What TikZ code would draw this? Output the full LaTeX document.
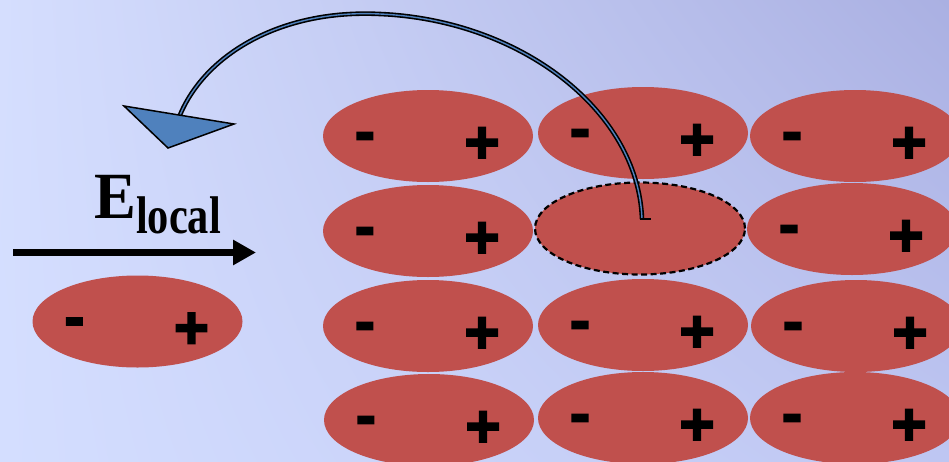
\documentclass[tikz,border=0pt]{standalone}
\usepackage{fontspec}
\usepackage{graphicx}
\usetikzlibrary{shapes.geometric,arrows.meta,shadings}
\newfontfamily\signfont[FakeBold=3]{Liberation Sans Bold}
\newfontfamily\labelfont{Liberation Serif Bold}

\definecolor{dipred}{RGB}{192,80,77}
\definecolor{arrowblue}{RGB}{79,129,189}
\definecolor{bgUL}{RGB}{213,222,254}
\definecolor{bgUR}{RGB}{170,176,226}
\definecolor{bgLL}{RGB}{212,222,255}
\definecolor{bgLR}{RGB}{190,198,242}

\tikzset{
  dip/.style={ellipse, fill=dipred, minimum width=210pt, minimum height=92pt, inner sep=0pt},
  probe/.style={dip, draw=black, dash pattern=on 6pt off 3.5pt, line width=2.2pt},
  sgn/.style={inner sep=0pt, outer sep=0pt, font=\signfont\fontsize{60}{60}\selectfont},
  shaft/.style={double=arrowblue, double distance=1.4pt, line width=1.6pt, line cap=butt},
  tiphead/.style={fill=arrowblue, draw=black, line width=1.5pt, line join=miter},
  fieldarrow/.style={line width=7pt, -{Triangle[length=23pt, width=24pt]}},
}

% an elongated dipole: red ellipse with its - and + charges
\newcommand\dipole[4][dip]{%
  \node[#1] (#2) at (#3,#4) {};
  \node[sgn] (#2m) at ([shift={(-63,6)}]#2.center) {-};
  \node[sgn] (#2p) at ([shift={(54,9)}]#2.center) {+};
}

\begin{document}
\begin{tikzpicture}[x=1pt, y=-1pt]
  \useasboundingbox (0,0) rectangle (949,461);
  \shade[upper left=bgUL, upper right=bgUR, lower left=bgLL, lower right=bgLR]
    (0,0) rectangle (949,461);

  % isolated dipole in the local field
  \dipole{free}{137.5}{321.5}

  % field arrow and its label
  \coordinate (fstart) at (13,252.5);
  \coordinate (fend) at (256,252.5);
  \draw[fieldarrow] (fstart) -- (fend);
  \node[anchor=base west, inner sep=0pt] (elabel) at (94,218)
    {\labelfont\fontsize{66}{66}\selectfont\scalebox{0.95}[1]{E}%
     \raisebox{-15pt}{\fontsize{53}{53}\selectfont\scalebox{0.8}[1]{local}}};

  % lattice of dipoles
  \dipole{a1}{428}{136}
  \dipole{a2}{643}{133}
  \dipole{a3}{855}{136}
  \dipole{b1}{428}{231}
  \node[probe] (b2) at (640,228.5) {};
  \dipole{b3}{852}{229}
  \dipole{c1}{428}{326}
  \dipole{c2}{643}{325}
  \dipole{c3}{856}{326}
  \dipole{d1}{429}{420}
  \dipole{d2}{643}{418}
  \dipole{d3}{855}{418}

  % curved arrow leaving the removed dipole's site
  \coordinate (tail) at (642,219);
  \coordinate (crest) at (380,14);
  \coordinate (hbase) at (180,115);
  \coordinate (hA) at (124,106);
  \coordinate (hB) at (234,124);
  \coordinate (hC) at (168,148);
  \draw[shaft] (tail) .. controls (638,110) and (520,20) .. (crest)
                      .. controls (280,9) and (205,55) .. (hbase);
  \draw[line width=1.5pt] ([xshift=-2pt]tail) -- ++(11,0);
  \draw[tiphead] (hA) -- (hB) -- (hC) -- cycle;
\end{tikzpicture}
\end{document}
